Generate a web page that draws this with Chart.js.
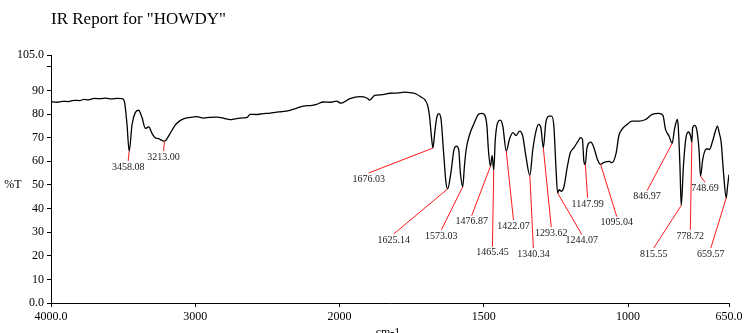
<!DOCTYPE html>
<html lang="en">
<head>
<meta charset="UTF-8">
<title>IR Report for "HOWDY"</title>
<script src="https://cdn.jsdelivr.net/npm/chart.js"></script>
<style>
  html, body { margin: 0; padding: 0; background: #fff; }
  #wrap { width: 745px; height: 333px; }
</style>
</head>
<body>
<div id="wrap"><canvas id="irChart" width="745" height="333"></canvas></div>
<script>
// Spectrum: wavenumber (cm-1, descending) and %T
const wavenumbers = [
  4000, 3960, 3920, 3880, 3840, 3800, 3773, 3740, 3700, 3658, 3620, 3580, 3540, 3508, 3492, 3473,
  3458.08, 3438, 3416, 3393, 3369, 3346, 3322, 3300, 3278, 3254, 3230, 3213.00, 3178, 3139, 3110,
  3082, 3035, 2990, 2943, 2900, 2851, 2800, 2759, 2720, 2667, 2640, 2620, 2580, 2528, 2480, 2436,
  2400, 2344, 2300, 2252, 2200, 2159, 2113, 2060, 2021, 1995, 1964, 1930, 1905, 1895, 1878, 1850,
  1826, 1800, 1774, 1750, 1734, 1715, 1705, 1694, 1688, 1681, 1676.03, 1670, 1663, 1656, 1648, 1640,
  1631, 1625.14, 1614, 1603, 1595, 1587, 1581, 1573.03, 1567, 1561, 1547, 1535, 1518, 1506, 1495,
  1489, 1484, 1476.87, 1471, 1465.45, 1460, 1452, 1443, 1434, 1422.07, 1411, 1399, 1388, 1376, 1365,
  1354, 1340.34, 1330, 1319, 1310, 1302, 1293.62, 1285, 1274, 1265, 1257, 1250, 1244.07, 1238, 1232,
  1223, 1210, 1200, 1188, 1173, 1165, 1158, 1153, 1147.99, 1143, 1134, 1129, 1120, 1106, 1095.04,
  1085, 1065, 1056, 1041, 1032, 1021, 1003, 986, 963, 939, 916, 893, 879, 870, 858, 846.97, 839,
  829, 826, 820, 815.55, 808, 800, 791, 783, 778.72, 776, 769, 762, 754, 748.69, 741, 734, 726, 718,
  707, 697, 690, 684, 677, 669, 659.57, 655, 650
];
const transmittance = [
  85.2, 85.0, 85.4, 85.3, 85.8, 85.7, 86.2, 86.0, 86.6, 86.5, 86.7, 86.4, 86.6, 86.5, 85.5, 75.6,
  64.2, 75.6, 80.6, 81.6, 78.5, 73.9, 74.6, 71.8, 70.0, 69.6, 68.8, 68.5, 71.4, 75.3, 77.0,
  78.0, 78.6, 78.9, 78.3, 78.6, 78.7, 78.2, 77.6, 78.0, 78.4, 78.6, 79.9, 79.8, 80.2, 80.4, 80.8,
  81.0, 81.6, 82.4, 83.4, 83.6, 84.1, 85.1, 85.0, 85.5, 84.6, 86.5, 87.4, 86.8, 85.9, 87.9, 88.2,
  88.8, 88.9, 89.3, 89.0, 88.5, 87.0, 86.2, 83.4, 79.1, 70.0, 65.6, 72.1, 78.5, 80.2, 77.7, 65.0,
  51.0, 48.3, 55.1, 65.0, 66.4, 65.0, 55.1, 49.2, 57.9, 65.0, 72.1, 75.6, 79.9, 80.3, 79.1,
  74.9, 65.0, 57.9, 62.5, 56.2, 69.3, 76.3, 77.4, 74.9, 64.3, 69.3, 72.1, 70.9, 72.8, 70.7,
  62.2, 54.0, 65.0, 72.8, 75.6, 74.2, 65.7, 76.3, 79.1, 79.1, 74.9, 57.9, 46.6, 48.0, 47.3,
  48.8, 57.9, 63.6, 65.7, 68.5, 70.0, 69.3, 60.0, 58.7, 65.0, 67.9, 68.1, 66.4, 60.8, 58.7,
  59.4, 60.0, 59.4, 63.6, 70.7, 73.5, 75.6, 77.0, 77.0, 77.7, 79.9, 80.3, 79.4, 73.5, 70.7, 67.6, 73.5,
  77.7, 74.9, 57.9, 41.3, 57.9, 69.3, 72.4, 70.7, 68.1, 74.2, 75.2, 73.5, 65.0, 53.7, 60.8, 64.3, 65.3, 65.0,
  68.5, 72.8, 74.9, 72.1, 67.9, 55.1, 44.5, 49.4, 54.4
];

// Labelled bands and where their labels sit (cm-1, %T)
const peakWavenumbers = [3458.08, 3213.00, 1676.03, 1625.14, 1573.03, 1476.87, 1465.45, 1422.07, 1340.34,
  1293.62, 1244.07, 1147.99, 1095.04, 846.97, 815.55, 778.72, 748.69, 659.57];
const labelWavenumbers = [3465, 3220, 1899, 1812, 1647, 1542, 1470, 1397, 1328,
  1266, 1160, 1140, 1039, 934, 911, 784, 733, 713];
const labelTransmittance = [57.6, 61.8, 52.5, 26.7, 28.4, 34.4, 21.3, 32.6, 20.7,
  29.6, 26.4, 41.9, 34.0, 45.0, 20.7, 28.4, 48.6, 20.7];

const xTicks = [4000, 3000, 2000, 1500, 1000, 650];
const yTicks = [0, 10, 20, 30, 40, 50, 60, 70, 80, 90, 100, 105];

const peakTransmittance = peakWavenumbers.map(w => transmittance[wavenumbers.indexOf(w)]);

const SERIF = "'Liberation Serif', 'Times New Roman', serif";
Chart.defaults.font.family = SERIF;
Chart.defaults.color = '#000';

// x axis: below 2000 cm-1 the spectrum is drawn at twice the scale
const BREAK = 2000;
class IrScale extends Chart.LinearScale {
  static id = 'ir';
  static defaults = Chart.LinearScale.defaults;
  stretch(v) { return v <= BREAK ? 2 * v : v + BREAK; }
  getPixelForValue(value) {
    if (value === null || isNaN(value)) return NaN;
    const a = this.stretch(this.min), b = this.stretch(this.max);
    return this.getPixelForDecimal((this.stretch(value) - a) / (b - a));
  }
  getValueForPixel(pixel) {
    const a = this.stretch(this.min), b = this.stretch(this.max);
    const u = a + this.getDecimalForPixel(pixel) * (b - a);
    return u <= 2 * BREAK ? u / 2 : u - BREAK;
  }
}
Chart.register(IrScale);

// red leader lines and band positions
const bandLabels = {
  id: 'bandLabels',
  afterDatasetsDraw(chart) {
    const { ctx, scales: { x, y } } = chart;
    ctx.save();
    ctx.font = '10px ' + SERIF;
    ctx.textAlign = 'center';
    ctx.textBaseline = 'middle';
    peakWavenumbers.forEach((w, i) => {
      const px = x.getPixelForValue(w);
      const py = y.getPixelForValue(peakTransmittance[i]);
      const lx = x.getPixelForValue(labelWavenumbers[i]);
      const ly = y.getPixelForValue(labelTransmittance[i]);
      ctx.strokeStyle = '#ff1a1a';
      ctx.lineWidth = 1;
      ctx.beginPath();
      ctx.moveTo(px, py);
      ctx.lineTo(lx, ly - 6);
      ctx.stroke();
      ctx.fillStyle = '#1a1a1a';
      ctx.fillText(w.toFixed(2), lx, ly);
    });
    ctx.restore();
  }
};

// report title, horizontal %T caption and the cm-1 caption
const reportText = {
  id: 'reportText',
  afterDraw(chart) {
    const { ctx, chartArea } = chart;
    ctx.save();
    ctx.fillStyle = '#000';
    ctx.font = '17px ' + SERIF;
    ctx.textAlign = 'left';
    ctx.textBaseline = 'alphabetic';
    ctx.fillText('IR Report for "HOWDY"', 51, 24);
    ctx.font = '12px ' + SERIF;
    ctx.textAlign = 'center';
    ctx.textBaseline = 'middle';
    ctx.fillText('%T', 13, chart.scales.y.getPixelForValue(50));
    ctx.fillText('cm-1', (chartArea.left + chartArea.right) / 2 - 2, 333);
    ctx.restore();
  }
};

new Chart(document.getElementById('irChart'), {
  type: 'line',
  data: {
    datasets: [{
      label: '%T',
      data: wavenumbers.map((w, i) => ({ x: w, y: transmittance[i] })),
      borderColor: '#000',
      borderWidth: 1.3,
      pointRadius: 0,
      cubicInterpolationMode: 'monotone',
      fill: false
    }]
  },
  options: {
    responsive: false,
    animation: false,
    layout: { padding: { top: 55, right: 16, bottom: 0, left: 0 } },
    plugins: { legend: { display: false }, title: { display: false }, tooltip: { enabled: false } },
    scales: {
      x: {
        type: 'ir',
        min: 650,
        max: 4000,
        reverse: true,
        afterBuildTicks: s => { s.ticks = xTicks.map(v => ({ value: v })); },
        afterFit: s => { s.height = 30; s.paddingLeft = 0; s.paddingRight = 0; },
        ticks: {
          autoSkip: false,
          maxRotation: 0,
          padding: 3,
          font: { size: 12 },
          callback: v => (v === 4000 || v === 650) ? v.toFixed(1) : String(v)
        },
        grid: { drawOnChartArea: false, drawTicks: true, tickLength: 4, color: '#000' },
        border: { display: true, color: '#000', width: 1 }
      },
      y: {
        min: 0,
        max: 105,
        afterBuildTicks: s => { s.ticks = yTicks.map(v => ({ value: v })); },
        afterFit: s => { s.width = 51; s.paddingTop = 0; s.paddingBottom = 0; },
        ticks: {
          padding: 3,
          font: { size: 12 },
          callback: v => v === 0 || v === 105 ? v.toFixed(1) : (v === 100 ? '' : String(v))
        },
        grid: { drawOnChartArea: false, drawTicks: true, tickLength: 4, color: '#000' },
        border: { display: true, color: '#000', width: 1 }
      }
    }
  },
  plugins: [bandLabels, reportText]
});
</script>
</body>
</html>
